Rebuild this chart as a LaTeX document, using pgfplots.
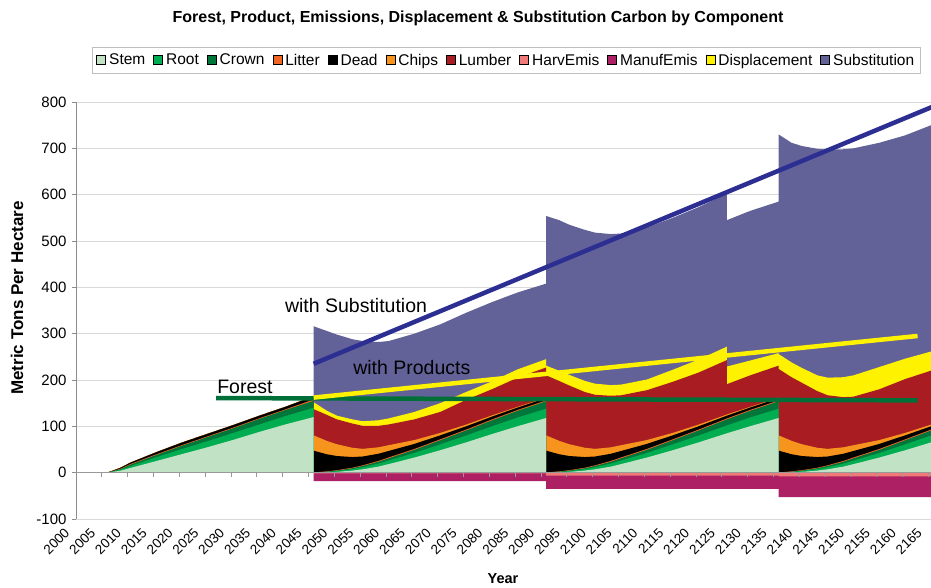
\documentclass[border=0pt]{standalone}
\usepackage{fontspec}
\setmainfont{Liberation Sans}
\usepackage{pgfplots}
\usepackage{pgfplotstable}
\pgfplotsset{compat=1.18}
\definecolor{stemc}{RGB}{193,226,196}
\definecolor{rootc}{RGB}{0,173,80}
\definecolor{crownc}{RGB}{0,118,58}
\definecolor{litterc}{RGB}{242,101,34}
\definecolor{deadc}{RGB}{0,0,0}
\definecolor{chipsc}{RGB}{247,148,30}
\definecolor{lumberc}{RGB}{168,28,34}
\definecolor{harvc}{RGB}{240,122,120}
\definecolor{manufc}{RGB}{174,32,100}
\definecolor{dispc}{RGB}{255,242,0}
\definecolor{subc}{RGB}{98,98,152}
\definecolor{tblue}{RGB}{44,46,145}
\definecolor{tyellow}{RGB}{255,242,0}
\definecolor{tgreen}{RGB}{0,112,56}
% cumulative tops of the stacked components (Metric tons per hectare)
\pgfplotstableread{
x      S     SR    SRC   SRCL  Dt    Cht   LT   DT   ST   H    M
1999.5 0     0     0     0     0     0     0    0    0    0    0
2005.5 0     0     0     0     0     0     0    0    0    0    0
2008   4     6     7     8     10    10    10   10   10   0    0
2010   10    14    17    18.5  21.5  21.5  21.5 21.5 21.5 0    0
2015   25    33    38    39.5  44    44    44   44   44   0    0
2020   40    51    58    59.5  65    65    65   65   65   0    0
2025   55    68    77    78.5  84    84    84   84   84   0    0
2030   71    86    96    97.5  103   103   103  103  103  0    0
2035   88    104   116   117.5 123   123   123  123  123  0    0
2040   104   122   135   136.5 142   142   142  142  142  0    0
2045.5 120   140   155   158   165   165   165  165  165  0    0
2045.5 0     0     0     0.5   47.5  80.5  137  152  316  -1.5 -18
2048   0.5   1.5   2     2.8   39.8  68.8  125  134  306  -1.5 -18
2050   1.7   3.5   4.4   5.4   35.9  61.4  115  123  298  -1.5 -18
2053   4.5   7.7   9.5   10.7  33.7  53.7  106  115  288  -1.5 -18
2055   7.3   11.9  14.5  15.9  34.9  51.4  101  111  284  -1.5 -18
2058   13    19.5  23.5  25.2  40.7  54.7  101  113  282  -1.5 -18
2060   18.5  26.1  30.9  32.8  46.8  59.2  104  117  284  -1.5 -18
2065   32.6  42.4  49.2  51.2  62    70.4  115  131  300  -1.5 -18
2070   48.4  61.1  69.9  71.9  80.5  85.8  131  150  320  -1.5 -18
2075   65.3  80.1  90.9  92.9  100   103.7 157  174  345  -1.5 -18
2080   83.2  100   112.8 114.8 120.9 123.5 180  197  368  -1.5 -18
2085   100.3 119.1 133.5 135.5 140.6 142.2 205  223  389  -1.5 -18
2090.5 118   138   154   156   161   162   227  245  408  -1.5 -18
2090.5 0     0     0     0.5   47.5  80.5  210  231  554  -6.5 -35
2093   0.5   1.5   2     2.8   39.8  68.8  198  220  545  -6.5 -35
2095   1.7   3.5   4.4   5.4   35.9  61.4  188  211  535  -6.5 -35
2098   4.5   7.7   9.5   10.7  33.7  53.7  174  198  524  -6.5 -35
2100   7.3   11.9  14.5  15.9  34.9  51.4  168  192  518  -6.5 -35
2103   13    19.5  23.5  25.2  40.7  54.7  166  189  515  -6.5 -35
2105   18.5  26.1  30.9  32.8  46.8  59.2  167  190  516  -6.5 -35
2110   32.6  42.4  49.2  51.2  62    70.4  178  201  529  -6.5 -35
2115   48.4  61.1  69.9  71.9  80.5  85.8  196  222  550  -6.5 -35
2120   65.3  80.1  90.9  92.9  100   103.7 216  244  573  -6.5 -35
2125.5 85    102   115   117   123   125.5 243  272  602  -6.5 -35
2125.5 85    102   115   117   123   125.5 191  229  545  -6.5 -35
2130   100.3 119.1 133.5 135.5 140.6 142.2 210  242  565  -6.5 -35
2135.5 118   138   154   156   161   162   231  258  585  -6.5 -35
2135.5 0     0     0     0.5   47.5  80.5  224  256  730  -8   -53
2138   0.5   1.5   2     2.8   39.8  68.8  206  238  712  -8   -53
2140   1.7   3.5   4.4   5.4   35.9  61.4  194  226  705  -8   -53
2143   4.5   7.7   9.5   10.7  33.7  53.7  176  210  699  -8   -53
2145   7.3   11.9  14.5  15.9  34.9  51.4  167  205  697  -8   -53
2148   13    19.5  23.5  25.2  40.7  54.7  163  206  698  -8   -53
2150   18.5  26.1  30.9  32.8  46.8  59.2  164  210  700  -8   -53
2155   32.6  42.4  49.2  51.2  62    70.4  180  228  712  -8   -53
2160   48.4  61.1  69.9  71.9  80.5  85.8  202  246  728  -8   -53
2165.5 67    82    93    95    102   105.5 222  263  752  -8   -53
}\data
\begin{document}
\begin{tikzpicture}
\useasboundingbox (0,0) rectangle (931pt,588pt);
\begin{axis}[
  at={(76pt,69pt)}, anchor=south west,
  scale only axis, width=855pt, height=417pt,
  xmin=1999.5, xmax=2165, ymin=-100, ymax=800,
  separate axis lines,
  axis lines*=left,
  x axis line style={draw=none},
  y axis line style={draw=black!45, line width=0.8pt},
  ytick={-100,0,100,200,300,400,500,600,700,800},
  ymajorgrids, grid style={draw=black!15, line width=0.8pt},
  tick align=outside, major tick length=4pt,
  ytick style={draw=black!45, line width=0.8pt},
  xtick={2000,2005,...,2165},
  xtick style={draw=none},
  /pgf/number format/assume math mode=true,
  /pgf/number format/1000 sep={},
  yticklabel style={xshift=-2pt, font=\fontsize{15}{18}\selectfont},
  xticklabel style={xshift=-15pt, yshift=-4pt, rotate=45, anchor=north east, inner sep=0pt, font=\fontsize{13.5}{16}\selectfont},
  legend style={at={(axis description cs:0.0187,1.132)}, anchor=north west,
    draw=black!25, line width=0.8pt, inner xsep=4pt, inner ysep=4.5pt,
    font=\fontsize{15.5}{18}\selectfont,
    nodes={inner sep=2pt},
    /tikz/every odd column/.append style={column sep=1pt},
    /tikz/every even column/.append style={column sep=6pt}},
  legend columns=-1,
  legend image code/.code={\fill[#1] (0pt,-4pt) rectangle (9pt,5pt);},
]
\addplot[forget plot, fill=subc, draw=none] table[x=x,y=ST]{\data} \closedcycle;
\addplot[forget plot, fill=dispc, draw=none] table[x=x,y=DT]{\data} \closedcycle;
\addplot[forget plot, fill=lumberc, draw=none] table[x=x,y=LT]{\data} \closedcycle;
\addplot[forget plot, fill=chipsc, draw=none] table[x=x,y=Cht]{\data} \closedcycle;
\addplot[forget plot, fill=deadc, draw=none] table[x=x,y=Dt]{\data} \closedcycle;
\addplot[forget plot, fill=litterc, draw=none] table[x=x,y=SRCL]{\data} \closedcycle;
\addplot[forget plot, fill=crownc, draw=none] table[x=x,y=SRC]{\data} \closedcycle;
\addplot[forget plot, fill=rootc, draw=none] table[x=x,y=SR]{\data} \closedcycle;
\addplot[forget plot, fill=stemc, draw=none] table[x=x,y=S]{\data} \closedcycle;
\addplot[forget plot, fill=manufc, draw=none] table[x=x,y=M]{\data} \closedcycle;
\addplot[forget plot, fill=harvc, draw=none] table[x=x,y=H]{\data} \closedcycle;
% zero axis line and its ticks
\draw[black!40, line width=0.8pt] (axis cs:1999.5,0) -- (axis cs:2165.5,0);
\pgfplotsinvokeforeach{2004.5,2009.5,2014.5,2019.5,2024.5,2029.5,2034.5,2039.5,2044.5,2049.5,2054.5,2059.5,2064.5,2069.5,2074.5,2079.5,2084.5,2089.5,2094.5,2099.5,2104.5,2109.5,2114.5,2119.5,2124.5,2129.5,2134.5,2139.5,2144.5,2149.5,2154.5,2159.5,2164.5}{
  \draw[black!40, line width=0.8pt] (axis cs:#1,0) -- ([yshift=-4pt]axis cs:#1,0);
}
% trend lines
\addplot[forget plot, color=tgreen, line width=4.5pt] coordinates {(2026.6,161) (2162.4,156)};
\addplot[forget plot, color=tyellow, line width=4.5pt] coordinates {(2045.5,162) (2162.4,295)};
\addplot[forget plot, color=tblue, line width=4.5pt] coordinates {(2045.5,235) (2166,793)};
\node[font=\fontsize{19.5}{22}\selectfont, inner sep=0pt] at (axis cs:2053.7,361) {with Substitution};
\node[font=\fontsize{19.5}{22}\selectfont, inner sep=0pt] at (axis cs:2064.5,227) {with Products};
\node[font=\fontsize{19.5}{22}\selectfont, inner sep=0pt] at (axis cs:2032.2,186) {Forest};
% legend
\addlegendimage{fill=stemc}\addlegendentry{Stem}
\addlegendimage{fill=rootc}\addlegendentry{Root}
\addlegendimage{fill=crownc}\addlegendentry{Crown}
\addlegendimage{fill=litterc}\addlegendentry{Litter}
\addlegendimage{fill=deadc}\addlegendentry{Dead}
\addlegendimage{fill=chipsc}\addlegendentry{Chips}
\addlegendimage{fill=lumberc}\addlegendentry{Lumber}
\addlegendimage{fill=harvc}\addlegendentry{HarvEmis}
\addlegendimage{fill=manufc}\addlegendentry{ManufEmis}
\addlegendimage{fill=dispc}\addlegendentry{Displacement}
\addlegendimage{fill=subc}\addlegendentry{Substitution}
\end{axis}
\node[font=\bfseries\fontsize{16}{18}\selectfont] at (478pt,570pt) {Forest, Product, Emissions, Displacement \& Substitution Carbon by Component};
\node[font=\bfseries\fontsize{17}{19}\selectfont, rotate=90] at (17pt,290pt) {Metric Tons Per Hectare};
\node[font=\bfseries\fontsize{14.5}{16}\selectfont] at (503pt,9pt) {Year};
\end{tikzpicture}
\end{document}
